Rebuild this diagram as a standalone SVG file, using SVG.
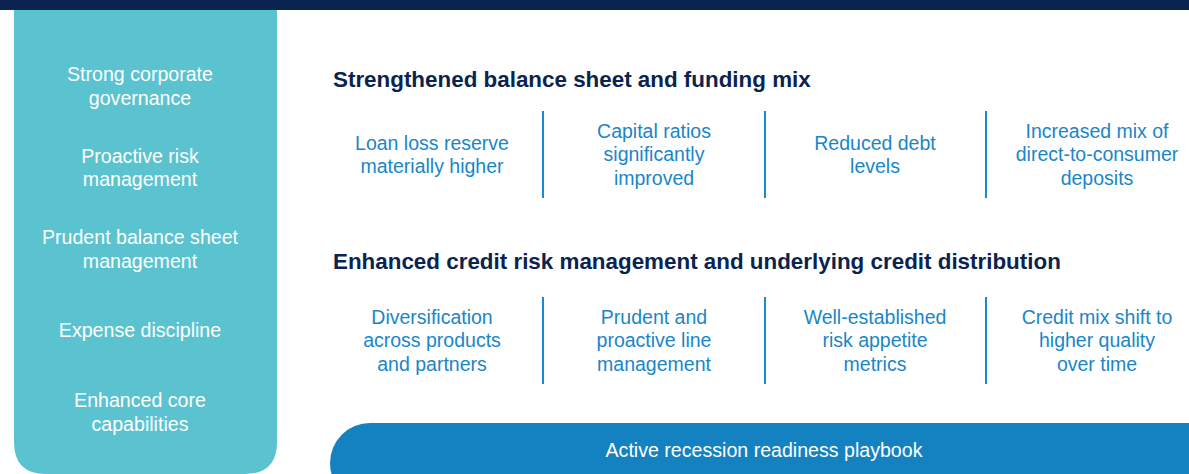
<svg xmlns="http://www.w3.org/2000/svg" width="1189" height="474" viewBox="0 0 1189 474">
<style>
.side{font-family:"Liberation Sans",Arial,sans-serif;font-size:19.6px;fill:#ffffff;text-anchor:middle}
.head{font-family:"Liberation Sans",Arial,sans-serif;font-size:22.4px;font-weight:bold;fill:#0a2350}
.item{font-family:"Liberation Sans",Arial,sans-serif;font-size:19.5px;fill:#1a86c8;text-anchor:middle}
.pill{font-family:"Liberation Sans",Arial,sans-serif;font-size:19.6px;fill:#ffffff;text-anchor:middle}
.div{stroke:#1a8ad0;stroke-width:2}
</style>
<rect width="1189" height="474" fill="#ffffff"/>
<rect id="topbar" x="0" y="0" width="1189" height="10" fill="#0a2350"/>
<g id="left-panel">
<path d="M14 10 H277 V442 Q277 474 245 474 H46 Q14 474 14 442 Z" fill="#5bc3cf"/>
<text class="side" x="140" y="81">Strong corporate</text>
<text class="side" x="140" y="105">governance</text>
<text class="side" x="140" y="163">Proactive risk</text>
<text class="side" x="140" y="186">management</text>
<text class="side" x="140" y="244">Prudent balance sheet</text>
<text class="side" x="140" y="268">management</text>
<text class="side" x="140" y="337">Expense discipline</text>
<text class="side" x="140" y="407">Enhanced core</text>
<text class="side" x="140" y="431">capabilities</text>
</g>
<g id="section1">
<text class="head" x="333" y="87">Strengthened balance sheet and funding mix</text>
<g id="s1-c1"><text class="item" x="432" y="150">Loan loss reserve</text><text class="item" x="432" y="173">materially higher</text></g>
<g id="s1-c2"><text class="item" x="654" y="138">Capital ratios</text><text class="item" x="654" y="161">significantly</text><text class="item" x="654" y="185">improved</text></g>
<g id="s1-c3"><text class="item" x="875" y="150">Reduced debt</text><text class="item" x="875" y="173">levels</text></g>
<g id="s1-c4"><text class="item" x="1097" y="138">Increased mix of</text><text class="item" x="1097" y="161">direct-to-consumer</text><text class="item" x="1097" y="185">deposits</text></g>
</g>
<g id="section2">
<text class="head" x="333" y="269">Enhanced credit risk management and underlying credit distribution</text>
<g id="s2-c1"><text class="item" x="432" y="324">Diversification</text><text class="item" x="432" y="347">across products</text><text class="item" x="432" y="371">and partners</text></g>
<g id="s2-c2"><text class="item" x="654" y="324">Prudent and</text><text class="item" x="654" y="347">proactive line</text><text class="item" x="654" y="371">management</text></g>
<g id="s2-c3"><text class="item" x="875" y="324">Well-established</text><text class="item" x="875" y="347">risk appetite</text><text class="item" x="875" y="371">metrics</text></g>
<g id="s2-c4"><text class="item" x="1097" y="324">Credit mix shift to</text><text class="item" x="1097" y="347">higher quality</text><text class="item" x="1097" y="371">over time</text></g>
</g>
<g id="dividers">
<line class="div" x1="543" y1="111" x2="543" y2="198"/>
<line class="div" x1="765" y1="111" x2="765" y2="198"/>
<line class="div" x1="986" y1="111" x2="986" y2="198"/>
<line class="div" x1="543" y1="297" x2="543" y2="384"/>
<line class="div" x1="765" y1="297" x2="765" y2="384"/>
<line class="div" x1="986" y1="297" x2="986" y2="384"/>
</g>
<g id="playbook">
<rect x="330" y="423" width="900" height="80" rx="40" fill="#1482c0"/>
<text class="pill" x="764" y="457">Active recession readiness playbook</text>
</g>
</svg>
